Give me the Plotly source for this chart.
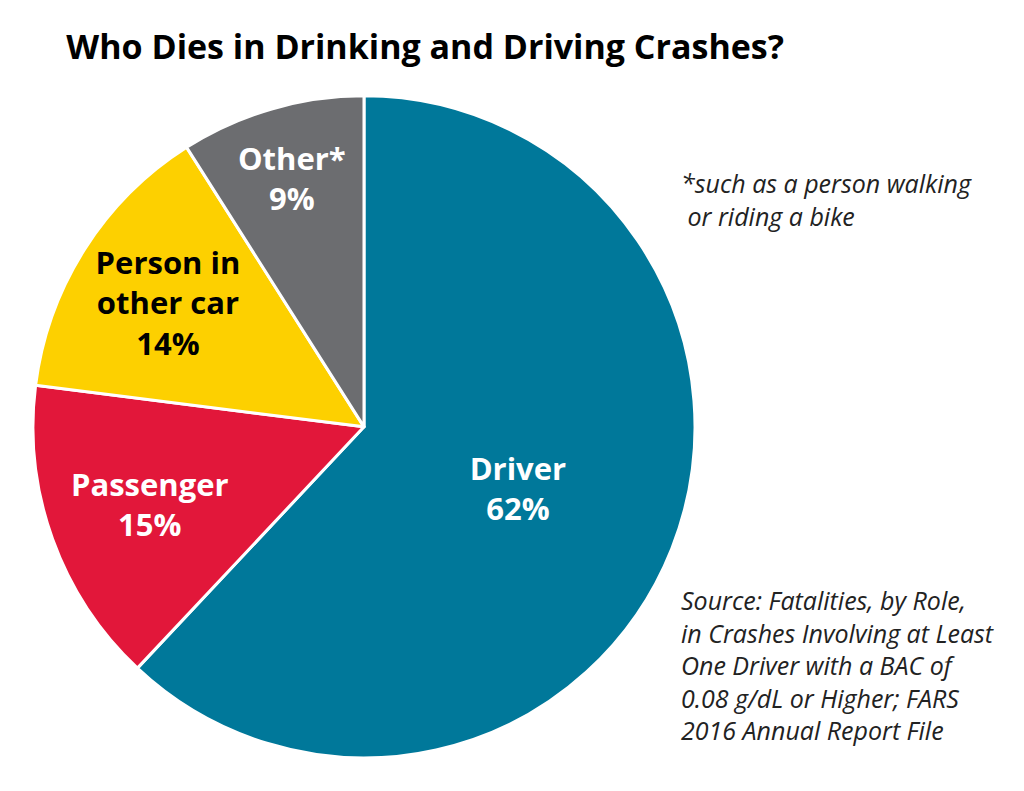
import plotly.graph_objects as go

# Fatalities by role, FARS 2016
roles = ["Driver", "Passenger", "Person in<br>other car", "Other*"]
shares = [62, 15, 14, 9]
colors = ["#00789a", "#e2173a", "#fdd000", "#6c6d70"]
text_colors = ["white", "white", "black", "white"]

fig = go.Figure(go.Pie(
    labels=roles,
    values=shares,
    text=roles,
    texttemplate="%{text}<br>%{value}%",
    textposition="inside",
    insidetextorientation="horizontal",
    sort=False,
    direction="clockwise",
    rotation=0,
    marker=dict(colors=colors, line=dict(color="white", width=3)),
    insidetextfont=dict(family="Open Sans", size=31, color=text_colors, weight="bold"),
    hoverinfo="label+percent",
    showlegend=False,
    domain=dict(x=[0.0244, 0.6709], y=[0.052, 0.889]),
))

fig.update_layout(
    width=1024,
    height=791,
    margin=dict(l=0, r=0, t=0, b=0),
    paper_bgcolor="white",
    plot_bgcolor="white",
    title=dict(
        text="<b>Who Dies in Drinking and Driving Crashes?</b>",
        x=0.057, xanchor="left", y=0.95, yanchor="middle",
        font=dict(family="Open Sans", size=34, color="black"),
    ),
)

# side notes
fig.add_annotation(
    text="<i>*such as a person walking<br> or riding a bike</i>",
    x=0.655, y=0.758, xref="paper", yref="paper",
    xanchor="left", yanchor="middle", align="left", showarrow=False,
    font=dict(family="Open Sans", size=25, color="#222"),
)
fig.add_annotation(
    text="<i>Source: Fatalities, by Role,<br>in Crashes Involving at Least<br>"
         "One Driver with a BAC of<br>0.08 g/dL or Higher; FARS<br>2016 Annual Report File</i>",
    x=0.655, y=0.17, xref="paper", yref="paper",
    xanchor="left", yanchor="middle", align="left", showarrow=False,
    font=dict(family="Open Sans", size=25, color="#222"),
)

fig.write_html("out.html")
